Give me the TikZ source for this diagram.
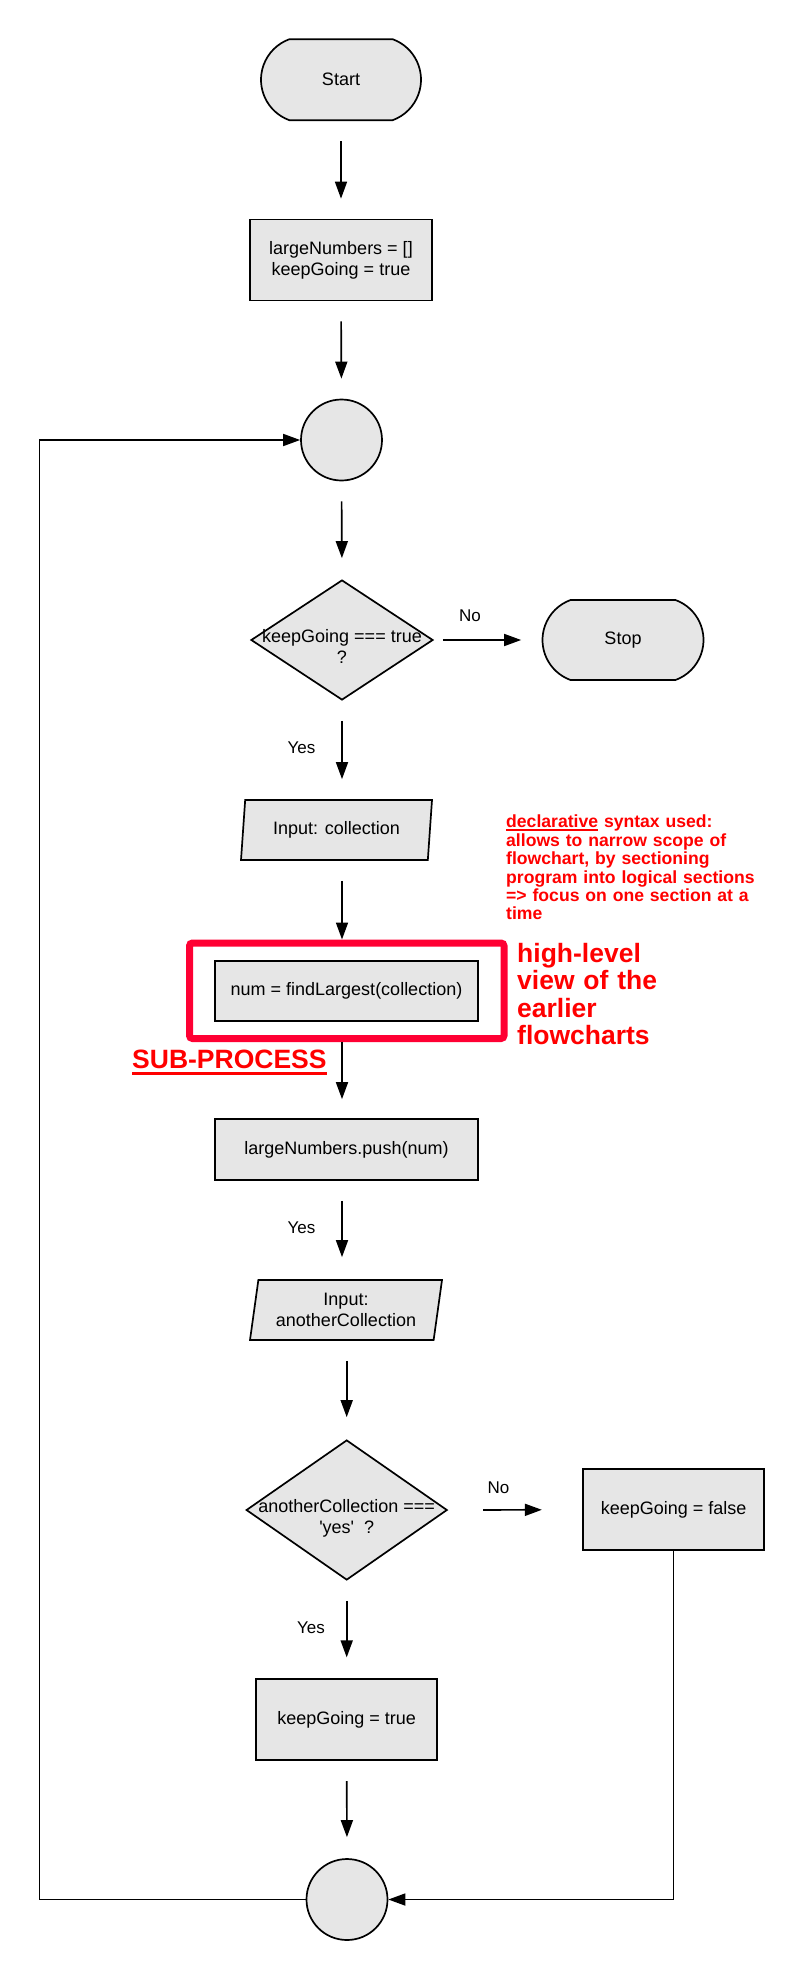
\documentclass[tikz,border=0pt]{standalone}
\usepackage{fontspec}
\setmainfont{Liberation Sans}
\newfontfamily\lib{Liberation Sans}
\usetikzlibrary{shapes.geometric,shapes.misc,arrows.meta,calc}
\definecolor{gfill}{HTML}{E6E6E6}
\definecolor{boxred}{HTML}{FF0033}
\definecolor{txtred}{HTML}{FF0000}
\newcommand\dtext[1]{\smash{\makebox[0pt]{\raisebox{-13pt}{\begin{tabular}{@{}c@{}}#1\end{tabular}}}}}
\newcommand\myul[3]{\setbox0=\hbox{#3}\rlap{\rule[-#1]{\wd0}{#2}}\box0\relax}
\begin{document}
\begin{tikzpicture}[x=1pt,y=-1pt,
  base/.style={draw=black, line width=1.7pt, fill=gfill, font=\lib\fontsize{18}{21}\selectfont, inner sep=0pt},
  term/.style={base, rounded rectangle, rounded rectangle arc length=140},
  proc/.style={base, rectangle, align=center},
  io/.style={base, trapezium, trapezium left angle=76, trapezium right angle=104, trapezium stretches body, align=center},
  dec/.style={base, diamond},
  conn/.style={base, circle, minimum size=81pt},
  arr/.style={-{Triangle[length=17pt,width=12pt]}, line width=1.7pt},
  lbl/.style={font=\lib\fontsize{17}{20}\selectfont, inner sep=0pt},
  subframe/.style={draw=boxred, line width=7pt, rounded corners=3pt},
]
\useasboundingbox (0,0) rectangle (800,1980);

% nodes
\node[term, minimum width=160pt, minimum height=81pt] (start) at (341,79.7) {Start};
\node[proc, minimum width=182pt, minimum height=81pt] (init) at (341,260) {largeNumbers = []\\keepGoing = true};
\node[conn] (c1) at (341.5,440) {};
\node[dec, minimum width=182pt, minimum height=120pt] (d1) at (342,640) {\dtext{keepGoing === true\\?}};
\node[term, minimum width=161pt, minimum height=80pt] (stop) at (623,640) {Stop};
\node[io, minimum width=191pt, minimum height=60pt] (p1) at (336.5,830) {Input: collection};
\node[subframe, minimum width=314.5pt, minimum height=95.5pt] (subbox) at (346.75,990.75) {};
\node[proc, minimum width=263pt, minimum height=60pt] (fl) at (346.5,991) {num = findLargest(collection)};
\node[proc, minimum width=263pt, minimum height=61pt] (push) at (346.5,1149.5) {largeNumbers.push(num)};
\node[io, minimum width=192pt, minimum height=60pt] (p2) at (346,1310) {Input:\\anotherCollection};
\node[dec, minimum width=201pt, minimum height=140pt] (d2) at (346.7,1510) {\dtext{anotherCollection ===\\'yes'\ \ ?}};
\node[proc, minimum width=181pt, minimum height=81pt] (kf) at (673.6,1509.7) {keepGoing = false};
\node[proc, minimum width=181pt, minimum height=81pt] (kt) at (346.7,1719.7) {keepGoing = true};
\node[conn] (c2) at (347,1899.5) {};
\coordinate (loopx) at (39.5,0);

% connectors
\draw[arr, shorten <=20pt, shorten >=20pt] (start.south) -- (init.north);
\draw[arr, shorten <=20pt, shorten >=20pt] (init.south) -- (c1.north);
\draw[arr, shorten <=20pt, shorten >=21pt] (c1.south) -- (d1.north);
\draw[arr, shorten <=9pt, shorten >=20.5pt] (d1.east) -- (stop.west);
\draw[arr, shorten <=20pt, shorten >=20pt] (d1.south) -- (d1.south |- p1.north);
\draw[arr, shorten <=20pt, shorten >=0pt] (p1.south -| d1.south) -- (subbox.north -| d1.south);
\draw[arr, shorten >=19pt] (subbox.south -| d1.south) -- (push.north -| d1.south);
\draw[arr, shorten <=20pt, shorten >=22pt] (push.south -| d1.south) -- (p2.north -| d1.south);
\draw[arr, shorten <=20pt, shorten >=22pt] (p2.south -| d2.north) -- (d2.north);
\draw[arr, shorten <=35pt, shorten >=40.4pt] (d2.east) -- (kf.west);
\draw[arr, shorten <=20pt, shorten >=21pt] (d2.south) -- (kt.north);
\draw[arr, shorten <=20pt, shorten >=21pt] (kt.south) -- (c2.north);
\draw[arr] (kf.south) |- (c2.east);
\draw[arr] (c2.west) -- (c2.west -| loopx) |- (c1.west);

% labels
\node[lbl] (no1) at (470,616) {No};
\node[lbl] (yes1) at (301.5,748) {Yes};
\node[lbl] (yes2) at (301.5,1228) {Yes};
\node[lbl] (no2) at (498.5,1487.7) {No};
\node[lbl] (yes3) at (311,1627.7) {Yes};

% annotations
\node[anchor=north west, inner sep=0pt, text width=270pt, align=left, text=txtred,
  font=\lib\bfseries\fontsize{17.6}{18.4}\selectfont] (note) at (506,815)
  {\myul{3.2pt}{2pt}{declarative} syntax used:\\allows to narrow scope of\\flowchart, by sectioning\\program into logical sections\\=> focus on one section at a\\time};
\node[anchor=north west, inner sep=0pt, text width=160pt, align=left, text=txtred,
  font=\lib\bfseries\fontsize{26.5}{27.5}\selectfont] (hl) at (517,943)
  {high-level\\view of the\\earlier\\flowcharts};
\node[anchor=base west, inner sep=0pt, text=txtred,
  font=\lib\bfseries\fontsize{26.5}{28}\selectfont] (subp) at (132,1068.5)
  {\myul{6.5pt}{3pt}{SUB-PROCESS}};
\end{tikzpicture}
\end{document}
